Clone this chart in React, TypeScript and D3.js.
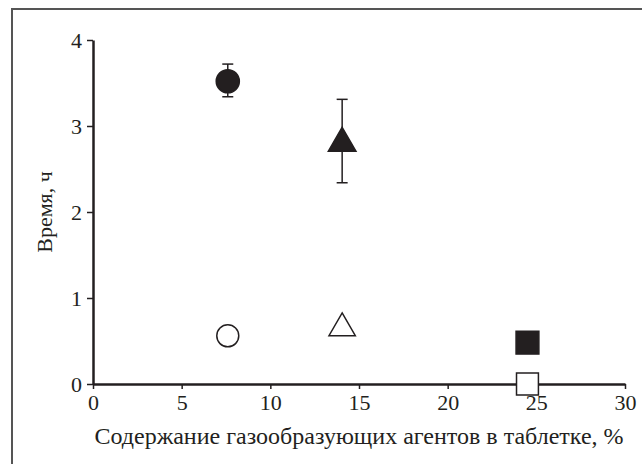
import React, { useEffect, useRef } from "react";
import * as d3 from "d3";

// содержание агентов (%), время (ч), погрешности
const filledX = [7.6, 14.05];
const filledY = [3.52, 2.8];
const errLow = [3.34, 2.34];
const errHigh = [3.72, 3.31];
const openCircle = { x: 7.6, y: 0.56 };
const openTriangle = { x: 14.05, y: 0.65 };
const filledSquare = { x: 24.5, y: 0.48 };
const openSquare = { x: 24.5, y: 0.0 };
const xTicks = [0, 5, 10, 15, 20, 25, 30];
const yTicks = [0, 1, 2, 3, 4];

const App = () => {
  const ref = useRef<SVGSVGElement>(null);

  useEffect(() => {
    const width = 642;
    const height = 464;
    const svg = d3.select(ref.current).attr("width", width).attr("height", height);
    svg.selectAll("*").remove();

    const font = "'Liberation Serif', Tinos, 'Times New Roman', 'DejaVu Serif', serif";
    const ink = "#231f20";
    const fs = 22;

    // рамка
    svg.append("rect")
      .attr("x", 12).attr("y", 9)
      .attr("width", 700).attr("height", 500)
      .attr("fill", "none").attr("stroke", "#555").attr("stroke-width", 2);

    const x = d3.scaleLinear().domain([0, 30]).range([93, 625]);
    const y = d3.scaleLinear().domain([0, 4]).range([384, 40]);

    const xAxis = svg.append("g")
      .attr("transform", `translate(0,${y(0)})`)
      .call(d3.axisBottom(x).tickValues(xTicks).tickFormat(d3.format("d")).tickSize(5).tickPadding(5).tickSizeOuter(0));
    const yAxis = svg.append("g")
      .attr("transform", `translate(${x(0)},0)`)
      .call(d3.axisLeft(y).tickValues(yTicks).tickFormat(d3.format("d")).tickSize(6).tickPadding(5).tickSizeOuter(0));

    [xAxis, yAxis].forEach(g => {
      g.attr("font-family", font).attr("font-size", fs);
      g.select(".domain").attr("stroke", ink).attr("stroke-width", 2.5);
      g.selectAll(".tick line").attr("stroke", ink).attr("stroke-width", 1.5);
      g.selectAll(".tick text").attr("fill", ink);
    });

    svg.append("text")
      .attr("x", 359).attr("y", 444)
      .attr("text-anchor", "middle")
      .attr("font-family", font).attr("font-size", 24).attr("fill", ink)
      .text("Содержание газообразующих агентов в таблетке, %");

    svg.append("text")
      .attr("transform", `translate(52,${y(2)}) rotate(-90)`)
      .attr("text-anchor", "middle")
      .attr("font-family", font).attr("font-size", fs).attr("fill", ink)
      .text("Время, ч");

    // погрешности
    filledX.forEach((xv, i) => {
      const cx = x(xv);
      svg.append("line")
        .attr("x1", cx).attr("x2", cx)
        .attr("y1", y(errLow[i])).attr("y2", y(errHigh[i]))
        .attr("stroke", ink).attr("stroke-width", 1.5);
      [errLow[i], errHigh[i]].forEach(v => {
        svg.append("line")
          .attr("x1", cx - 5.5).attr("x2", cx + 5.5)
          .attr("y1", y(v)).attr("y2", y(v))
          .attr("stroke", ink).attr("stroke-width", 1.5);
      });
    });

    const sym = (type: d3.SymbolType, size: number) => d3.symbol().type(type).size(size)();

    const markers = [
      { p: { x: filledX[0], y: filledY[0] }, type: d3.symbolCircle, size: 420, fill: ink },
      { p: { x: filledX[1], y: filledY[1] }, type: d3.symbolTriangle, size: 330, fill: ink },
      { p: openCircle, type: d3.symbolCircle, size: 380, fill: "#fff" },
      { p: openTriangle, type: d3.symbolTriangle, size: 300, fill: "#fff" },
      { p: filledSquare, type: d3.symbolSquare, size: 520, fill: ink },
      { p: openSquare, type: d3.symbolSquare, size: 480, fill: "#fff" },
    ];

    markers.forEach(m => {
      svg.append("path")
        .attr("d", sym(m.type, m.size))
        .attr("transform", `translate(${x(m.p.x)},${y(m.p.y)})`)
        .attr("fill", m.fill)
        .attr("stroke", ink)
        .attr("stroke-width", 1.5);
    });
  }, []);

  return <svg ref={ref} style={{ position: "absolute", left: 0, top: 0 }}></svg>;
};

export default App;
